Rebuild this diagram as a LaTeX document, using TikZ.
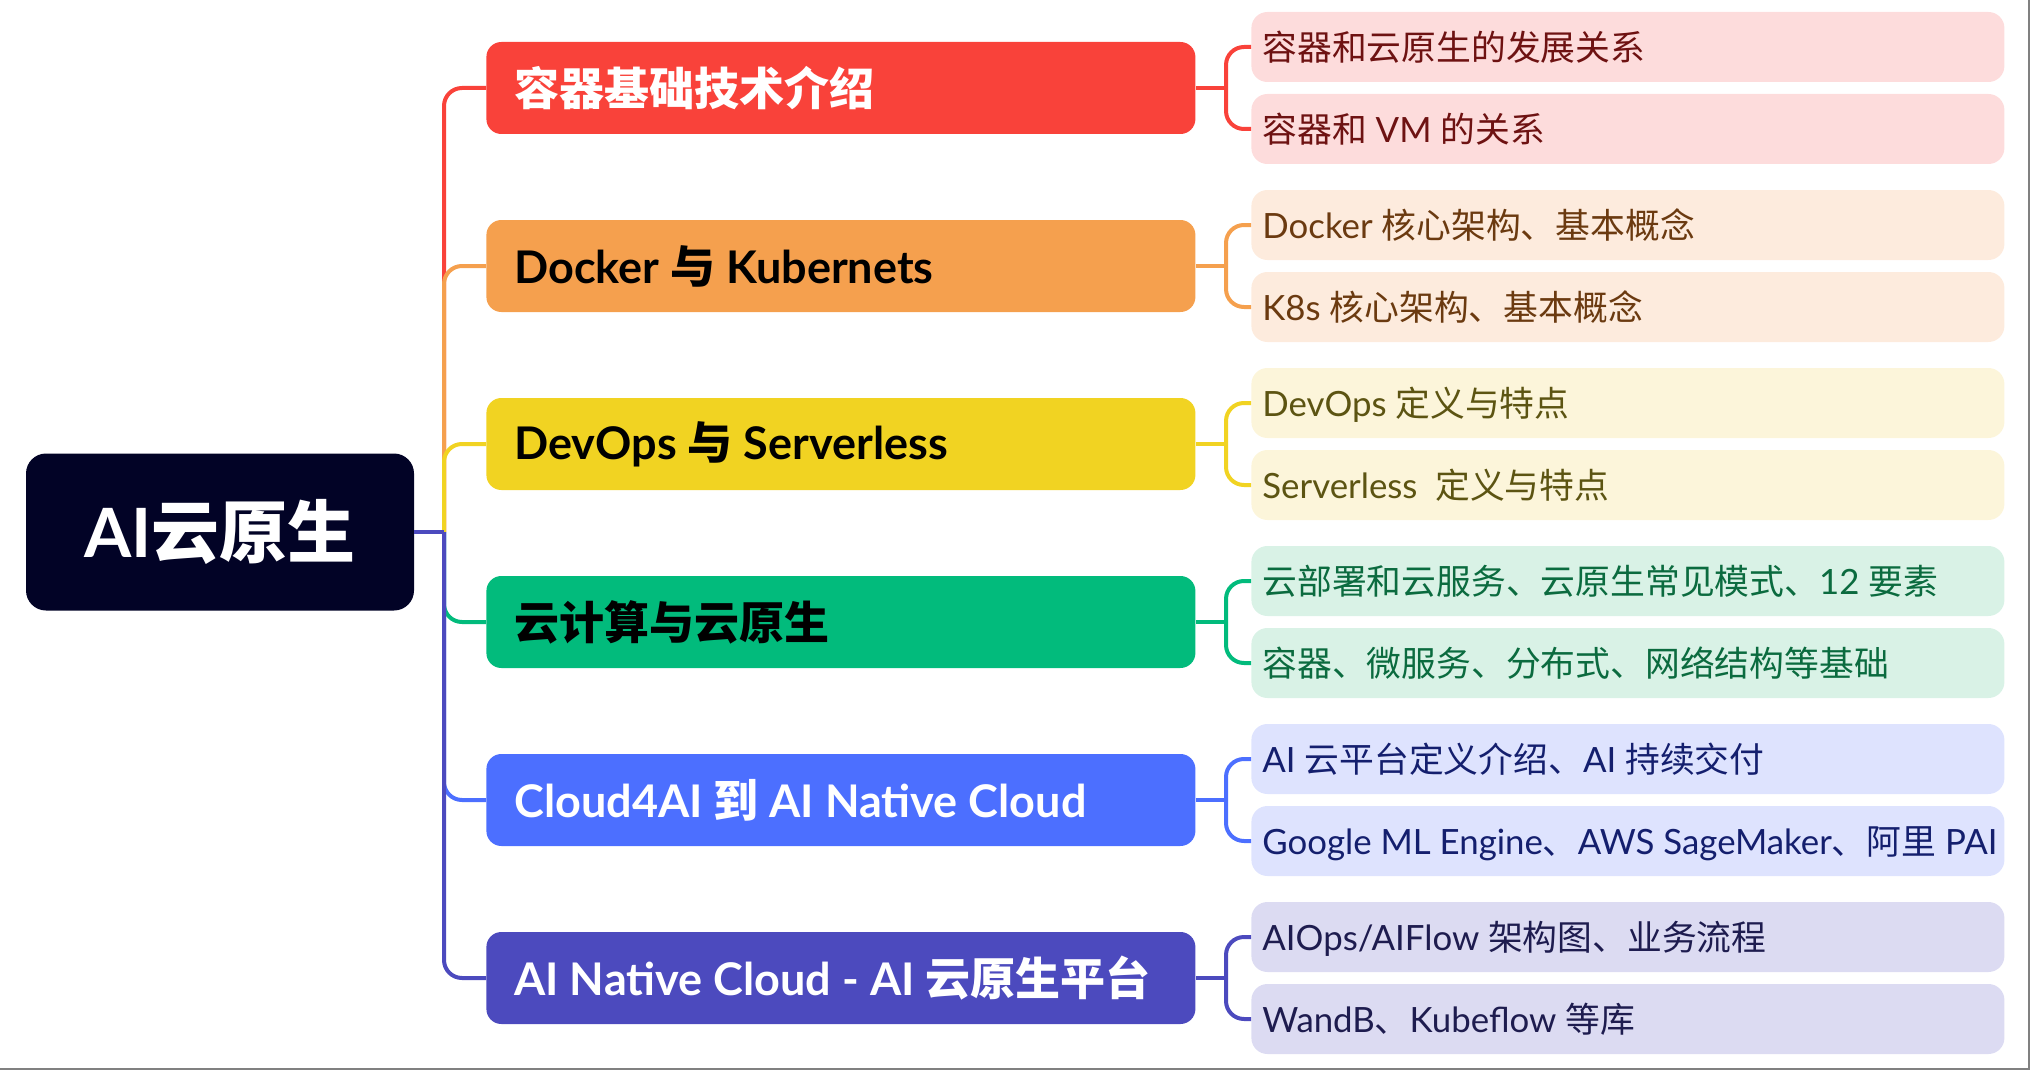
\documentclass[tikz,border=0pt]{standalone}
\usepackage{fontspec}
\setmainfont{Lato}
\newfontfamily\cjk{Noto Sans CJK SC}
\newcommand{\zh}[1]{{\cjk #1}}
\usepackage{tikz}
\usetikzlibrary{positioning}

\definecolor{rootbg}{HTML}{020326}
\definecolor{redc}{HTML}{F9423A}
\definecolor{redl}{HTML}{FDDCDC}
\definecolor{redt}{HTML}{6E1212}
\definecolor{orangec}{HTML}{F5A04E}
\definecolor{orangel}{HTML}{FDEBDD}
\definecolor{oranget}{HTML}{6B3A10}
\definecolor{yellowc}{HTML}{F1D322}
\definecolor{yellowl}{HTML}{FCF5DA}
\definecolor{yellowt}{HTML}{5C5412}
\definecolor{greenc}{HTML}{02BB7C}
\definecolor{greenl}{HTML}{D9F2E6}
\definecolor{greent}{HTML}{0B6B3F}
\definecolor{bluec}{HTML}{4C6FFF}
\definecolor{bluel}{HTML}{DEE3FE}
\definecolor{bluet}{HTML}{141F6E}
\definecolor{purplec}{HTML}{4C4ABE}
\definecolor{purplel}{HTML}{DCDBF2}
\definecolor{purplet}{HTML}{1E1C4F}
\definecolor{framec}{HTML}{808080}

\begin{document}
\begin{tikzpicture}[
x=0.5pt, y=-0.5pt,
link/.style = {line width=2pt, rounded corners=9pt},
stub/.style = {line width=2pt},
root-node/.style = {rounded corners=10pt, fill=rootbg, text=white, minimum width=194pt, minimum height=78.5pt, font=\bfseries\fontsize{34}{40}\selectfont},
branch-node/.style = {anchor=west, rounded corners=7.5pt, minimum width=354.5pt, minimum height=46pt, inner xsep=14pt,
  execute at begin node={\hbox to 326.5pt\bgroup}, execute at end node={\hss\egroup}, font=\bfseries\fontsize{22.5}{26}\selectfont},
leaf-node/.style = {anchor=west, rounded corners=8pt, minimum width=376.5pt, minimum height=35pt, inner xsep=5.5pt,
  execute at begin node={\hbox to 365.5pt\bgroup\vrule height 17.2pt depth 4pt width 0pt}, execute at end node={\hss\egroup}, font=\fontsize{17.4}{20}\selectfont}
]
\useasboundingbox (0,0) rectangle (2030,1070);
\draw[framec, line width=1pt] (2029,0) -- (2029,1069) -- (0,1069);

\node [root-node] (root) at (220, 532) {AI\zh{云原生}};
\coordinate (hub) at (444, 532);

% branches
\node [branch-node, fill=redc, text=white] (m1) at (486, 88) {\zh{容器基础技术介绍}};
\node [branch-node, fill=orangec, text=black] (m2) at (486, 266) {Docker \zh{与} Kubernets};
\node [branch-node, fill=yellowc, text=black] (m3) at (486, 444) {DevOps \zh{与} Serverless};
\node [branch-node, fill=greenc, text=black] (m4) at (486, 622) {\zh{云计算与云原生}};
\node [branch-node, fill=bluec, text=white] (m5) at (486, 800) {Cloud4AI \zh{到} AI Native Cloud};
\node [branch-node, fill=purplec, text=white] (m6) at (486, 978) {AI Native Cloud - AI \zh{云原生平台}};

% leaves
\node [leaf-node, fill=redl, text=redt] (l1a) at (1251, 47) {\zh{容器和云原生的发展关系}};
\node [leaf-node, fill=redl, text=redt] (l1b) at (1251, 129) {\zh{容器和} VM \zh{的关系}};
\node [leaf-node, fill=orangel, text=oranget] (l2a) at (1251, 225) {Docker \zh{核心架构、基本概念}};
\node [leaf-node, fill=orangel, text=oranget] (l2b) at (1251, 307) {K8s \zh{核心架构、基本概念}};
\node [leaf-node, fill=yellowl, text=yellowt] (l3a) at (1251, 403) {DevOps \zh{定义与特点}};
\node [leaf-node, fill=yellowl, text=yellowt] (l3b) at (1251, 485) {Serverless~ \zh{定义与特点}};
\node [leaf-node, fill=greenl, text=greent] (l4a) at (1251, 581) {\zh{云部署和云服务、云原生常见模式、}12 \zh{要素}};
\node [leaf-node, fill=greenl, text=greent] (l4b) at (1251, 663) {\zh{容器、微服务、分布式、网络结构等基础}};
\node [leaf-node, fill=bluel, text=bluet] (l5a) at (1251, 759) {AI \zh{云平台定义介绍、}AI \zh{持续交付}};
\node [leaf-node, fill=bluel, text=bluet] (l5b) at (1251, 841) {Google ML Engine\zh{、}AWS SageMaker\zh{、阿里} PAI};
\node [leaf-node, fill=purplel, text=purplet] (l6a) at (1251, 937) {AIOps/AIFlow \zh{架构图、业务流程}};
\node [leaf-node, fill=purplel, text=purplet] (l6b) at (1251, 1019) {WandB\zh{、}Kubeflow \zh{等库}};

% bracket points
\coordinate (b1) at (1226, 88);
\coordinate (b2) at (1226, 266);
\coordinate (b3) at (1226, 444);
\coordinate (b4) at (1226, 622);
\coordinate (b5) at (1226, 800);
\coordinate (b6) at (1226, 978);

% root to branches
\draw[link, redc] (hub) |- (m1.west);
\draw[link, orangec] (hub) |- (m2.west);
\draw[link, yellowc] (hub) |- (m3.west);
\draw[link, greenc] (hub) |- (m4.west);
\draw[link, bluec] (hub) |- (m5.west);
\draw[link, purplec] (hub) |- (m6.west);
\draw[stub, purplec] (root.east) -- (hub);

% branches to leaves
\draw[stub, redc] (m1.east) -- (b1);
\draw[link, redc] (b1) |- (l1a.west);
\draw[link, redc] (b1) |- (l1b.west);
\draw[stub, orangec] (m2.east) -- (b2);
\draw[link, orangec] (b2) |- (l2a.west);
\draw[link, orangec] (b2) |- (l2b.west);
\draw[stub, yellowc] (m3.east) -- (b3);
\draw[link, yellowc] (b3) |- (l3a.west);
\draw[link, yellowc] (b3) |- (l3b.west);
\draw[stub, greenc] (m4.east) -- (b4);
\draw[link, greenc] (b4) |- (l4a.west);
\draw[link, greenc] (b4) |- (l4b.west);
\draw[stub, bluec] (m5.east) -- (b5);
\draw[link, bluec] (b5) |- (l5a.west);
\draw[link, bluec] (b5) |- (l5b.west);
\draw[stub, purplec] (m6.east) -- (b6);
\draw[link, purplec] (b6) |- (l6a.west);
\draw[link, purplec] (b6) |- (l6b.west);

\end{tikzpicture}
\end{document}
